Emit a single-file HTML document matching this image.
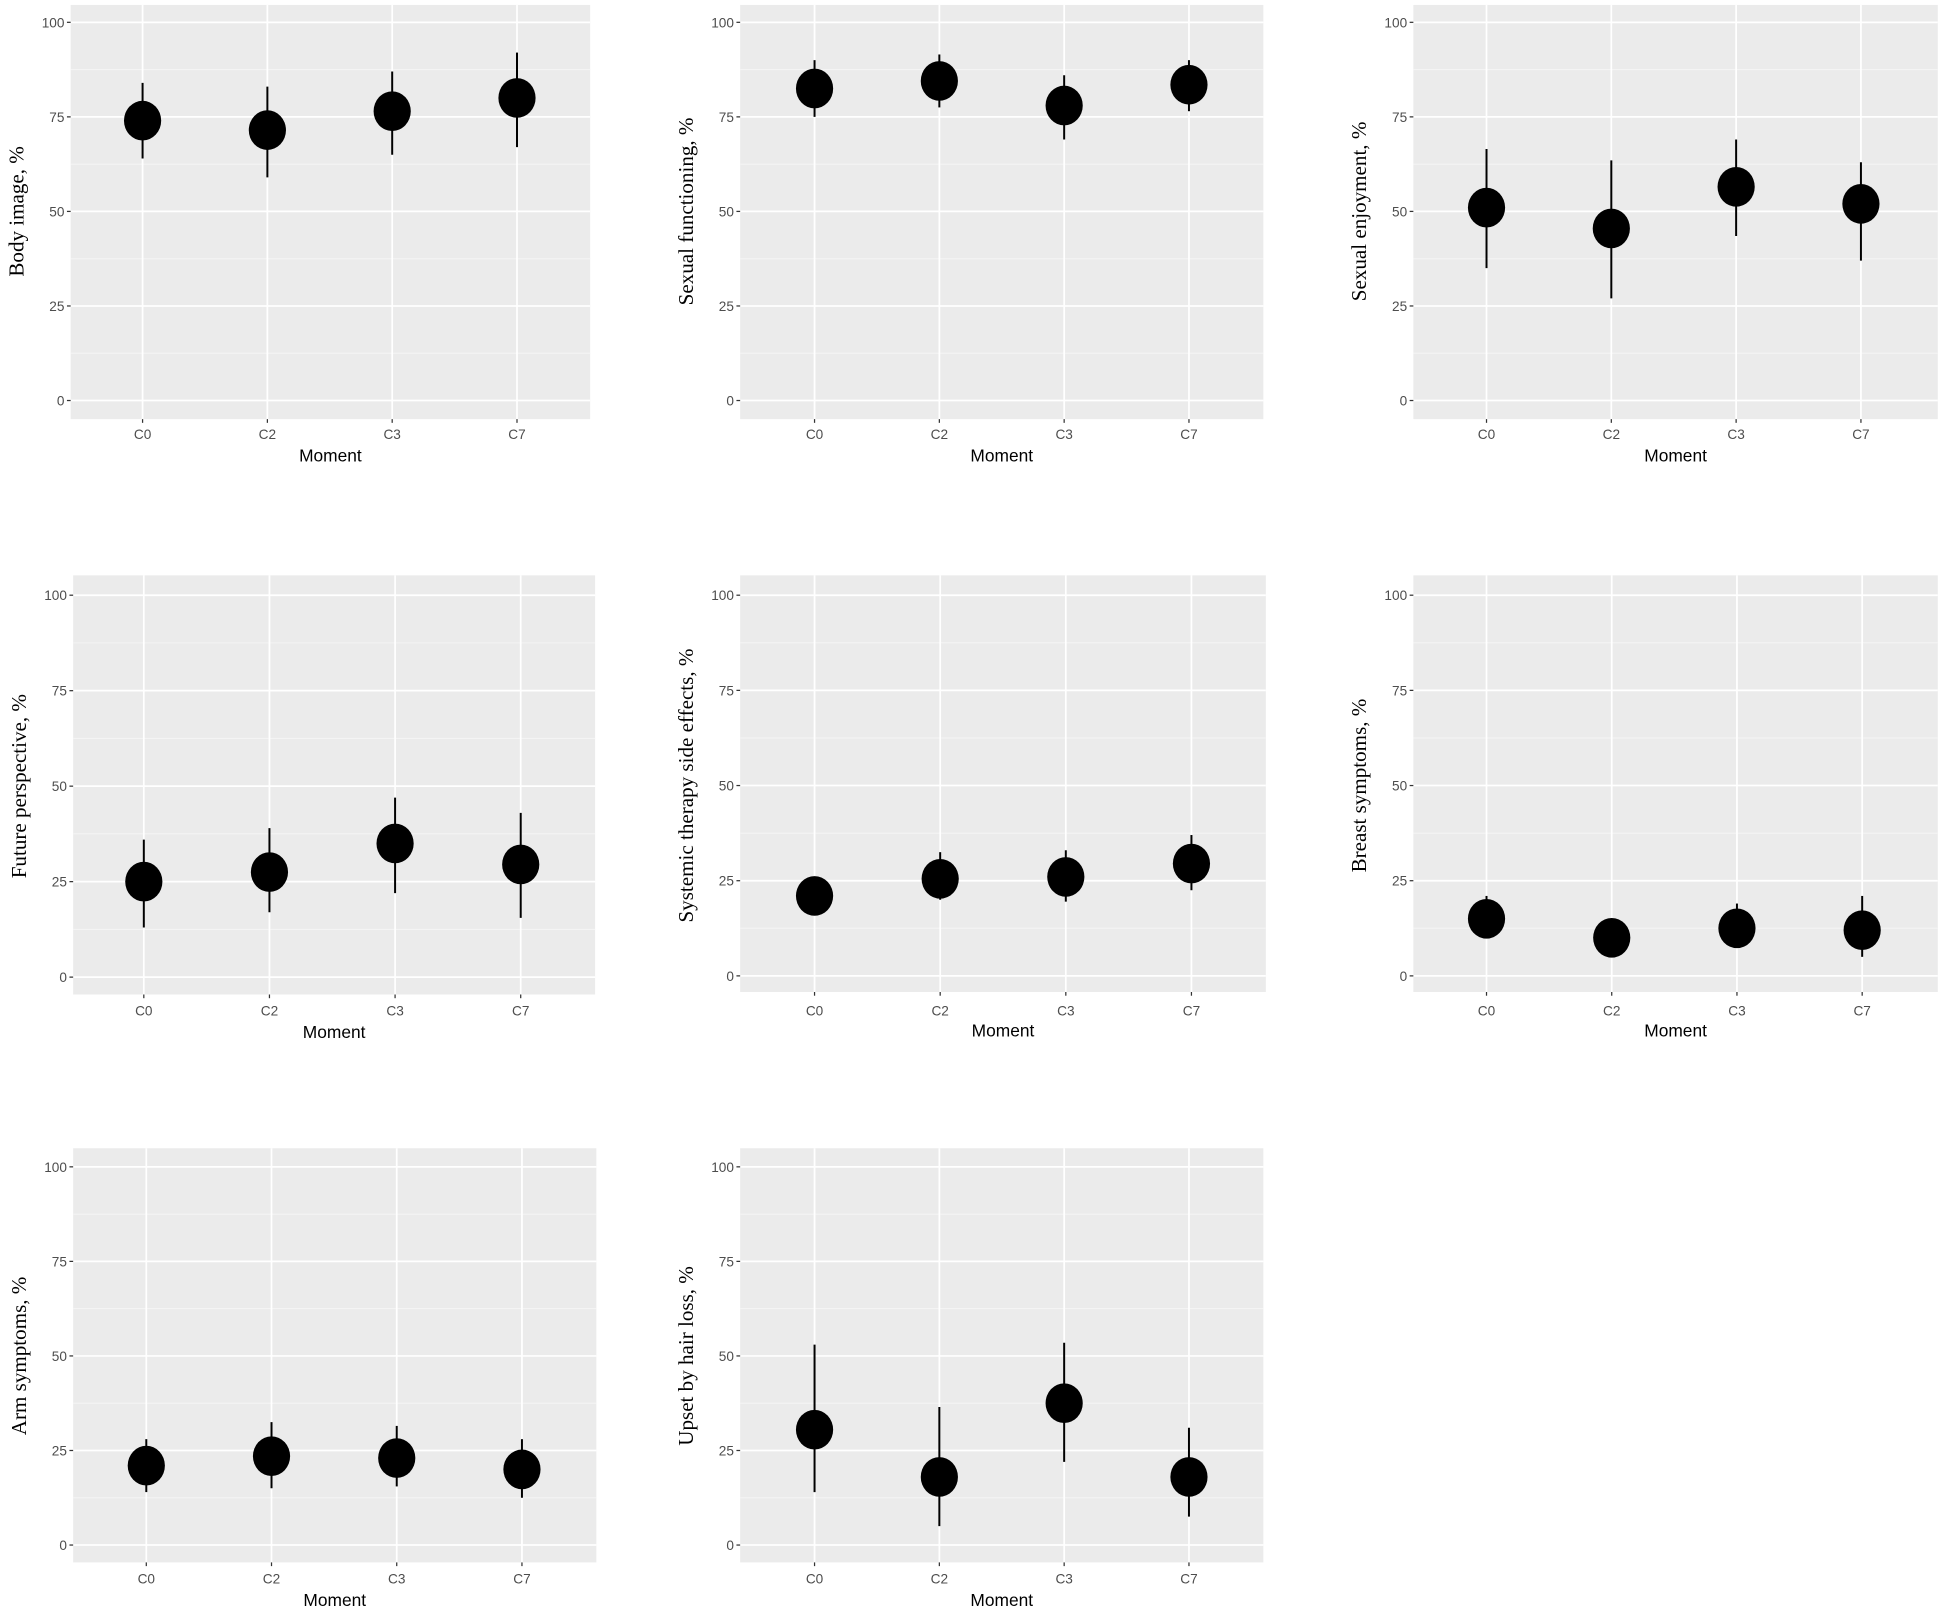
<!DOCTYPE html>
<html><head><meta charset="utf-8"><style>
html,body{margin:0;padding:0;background:#fff}
svg{display:block}
</style></head><body>
<svg id="fig" xmlns="http://www.w3.org/2000/svg" width="1944" height="1612" viewBox="0 0 1568 1300" preserveAspectRatio="none"></svg>
<script>
const categories = ["C0","C2","C3","C7"];
const yTicks = [0,25,50,75,100];
const titles = ["Body image, %","Sexual functioning, %","Sexual enjoyment, %","Future perspective, %","Systemic therapy side effects, %","Breast symptoms, %","Arm symptoms, %","Upset by hair loss, %"];
const means = [[74,71.5,76.5,80],[82.5,84.5,78,83.5],[51,45.5,56.5,52],[25,27.5,35,29.5],[21,25.5,26,29.5],[15,10,12.5,12],[21,23.5,23,20],[30.5,18,37.5,18]];
const lows = [[64,59,65,67],[75,77.5,69,76.5],[35,27,43.5,37],[13,17,22,15.5],[16,20,19.5,22.5],[10,7,7.5,5],[14,15,15.5,12.5],[14,5,22,7.5]];
const highs = [[84,83,87,92],[90,91.5,86,90],[66.5,63.5,69,63],[36,39,47,43],[26,32.5,33,37],[21,12,19,21],[28,32.5,31.5,28],[53,36.5,53.5,31]];
// layout (panel frames, not data)
const frames = [
 {x0:57,x1:476,y0:4,y1:338,y100:18,yz:323,c0:115,c7:417,tk:350,mo:367},
 {x0:597,x1:1019,y0:4,y1:338,y100:18,yz:323,c0:657,c7:959,tk:350,mo:367},
 {x0:1140,x1:1563,y0:4,y1:338,y100:18,yz:323,c0:1199,c7:1501,tk:350,mo:367},
 {x0:59,x1:480,y0:464,y1:802,y100:480,yz:788,c0:116,c7:420,tk:815,mo:832},
 {x0:597,x1:1021,y0:464,y1:800,y100:480,yz:787,c0:657,c7:961,tk:815,mo:831},
 {x0:1140,x1:1563,y0:464,y1:800,y100:480,yz:787,c0:1199,c7:1502,tk:815,mo:831},
 {x0:59,x1:481,y0:926,y1:1260,y100:941,yz:1246,c0:118,c7:421,tk:1273,mo:1290},
 {x0:597,x1:1019,y0:926,y1:1260,y100:941,yz:1246,c0:657,c7:959,tk:1273,mo:1290}
];
const NS="http://www.w3.org/2000/svg";
const svg=document.getElementById('fig');
function mk(tag,attrs,parent){const e=document.createElementNS(NS,tag);for(const k in attrs)e.setAttribute(k,attrs[k]);parent.appendChild(e);return e;}
frames.forEach((f,pi)=>{
  const g=mk('g',{},svg);
  
  
  const ys=v=>f.yz+(f.y100-f.yz)*v/100;
  const xs=i=>f.c0+(f.c7-f.c0)*i/(categories.length-1);
  const bg=mk('rect',{x:f.x0,y:f.y0,width:f.x1-f.x0,height:f.y1-f.y0,fill:'#ebebeb'},g);
  
  
  for(let v=12.5;v<100;v+=25){const l=mk('line',{x1:f.x0,x2:f.x1,y1:ys(v),y2:ys(v),stroke:'#f5f5f5','stroke-width':0.8},g);
    
    }
  yTicks.forEach(v=>{
    const l=mk('line',{x1:f.x0,x2:f.x1,y1:ys(v),y2:ys(v),stroke:'#fff','stroke-width':1.4},g);
    
    
    mk('line',{x1:f.x0-3,x2:f.x0,y1:ys(v),y2:ys(v),stroke:'#333','stroke-width':1},g);
    const t=mk('text',{x:f.x0-5,y:ys(v)+4,'text-anchor':'end','font-family':'Liberation Sans, sans-serif','font-size':11,fill:'#4d4d4d'},g);
    t.textContent=v;
    
    
  });
  categories.forEach((c,i)=>{
    const l=mk('line',{x1:xs(i),x2:xs(i),y1:f.y0,y2:f.y1,stroke:'#fff','stroke-width':1.4},g);
    
    
    mk('line',{x1:xs(i),x2:xs(i),y1:f.y1,y2:f.y1+3,stroke:'#333','stroke-width':1},g);
    const t=mk('text',{x:xs(i),y:f.tk+4,'text-anchor':'middle','font-family':'Liberation Sans, sans-serif','font-size':11,fill:'#4d4d4d'},g);
    t.textContent=c;
    
    
    const eb=mk('line',{x1:xs(i),x2:xs(i),y1:ys(lows[pi][i]),y2:ys(highs[pi][i]),stroke:'#000','stroke-width':1.6},g);
    
    
    const p=mk('ellipse',{cx:xs(i),cy:ys(means[pi][i]),rx:15,ry:16,fill:'#000'},g);
    
    
  });
  const xt=mk('text',{x:(f.x0+f.x1)/2,y:f.mo+5,'text-anchor':'middle','font-family':'Liberation Sans, sans-serif','font-size':14,fill:'#000'},g);
  xt.textContent='Moment';
  
  
  const cy=(f.y100+f.yz)/2, cx=f.x0-38;
  const yt=mk('text',{x:cx,y:cy,'text-anchor':'middle','font-family':'Liberation Serif, serif','font-size':17,fill:'#000',transform:`rotate(-90 ${cx} ${cy})`},g);
  yt.textContent=titles[pi];
  
  
});
</script>
</body></html>
